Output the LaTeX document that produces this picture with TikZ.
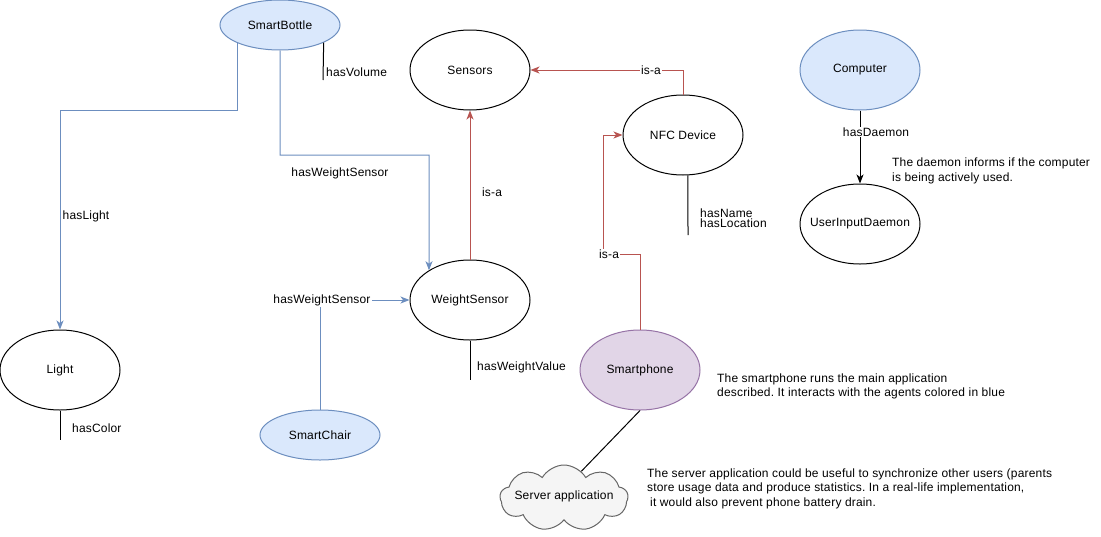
\documentclass[tikz,border=0pt]{standalone}
\usepackage{fontspec}
\setmainfont{Liberation Sans}[LetterSpace=1.5]
\usetikzlibrary{shapes.geometric,shapes.symbols,arrows.meta}
\definecolor{bfill}{HTML}{DAE8FC}
\definecolor{bdraw}{HTML}{6C8EBF}
\definecolor{rdraw}{HTML}{B85450}
\definecolor{pfill}{HTML}{E1D5E7}
\definecolor{pdraw}{HTML}{9673A6}
\definecolor{gfill}{HTML}{F5F5F5}
\definecolor{gdraw}{HTML}{666666}
\newcommand\myfs{\fontsize{12}{14.5}\selectfont}
\frenchspacing
\begin{document}
\begin{tikzpicture}[x=1pt,y=-1pt,
 txt/.style={font=\myfs, inner sep=1pt},
 ent/.style={ellipse, draw=black, line width=1pt, minimum width=120pt, minimum height=80pt, inner sep=0pt, font=\myfs},
 agent/.style={ent, draw=bdraw, fill=bfill},
 flat/.style={minimum height=50pt},
 tip/.style={-{Stealth[length=9pt,width=7pt,inset=2.5pt]}},
 bl/.style={draw=bdraw, line width=1pt},
 rl/.style={draw=rdraw, line width=1pt},
 kl/.style={draw=black, line width=1pt},
 elab/.style={txt, fill=white},
]
\fill[white] (0,0) rectangle (1101,536);
\useasboundingbox (0,0) rectangle (1101,536);

% entities
\node[agent, flat] (sb) at (280,25) {SmartBottle};
\node[ent] (sens) at (470,70) {Sensors};
\node[ent] (nfc) at (683,135) {NFC Device};
\node[agent] (comp) at (860,70) {Computer};
\node[ent] (uid) at (860,224) {\makebox[0pt]{UserInputDaemon}};
\node[ent] (ws) at (470,300) {\makebox[0pt]{WeightSensor}};
\node[ent] (light) at (60,370) {Light};
\node[agent, flat] (sc) at (320,435) {SmartChair};
\node[ent, draw=pdraw, fill=pfill] (sp) at (640,370) {Smartphone};
\node[cloud, cloud puffs=9, cloud puff arc=120, cloud ignores aspect, draw=gdraw, fill=gfill, line width=1pt,
      minimum width=128pt, minimum height=66pt, inner sep=0pt, font=\myfs] (srv) at (564,498)
      {\raisebox{6pt}{\makebox[0pt]{Server application}}};

% corner coordinates
\coordinate (c1) at (60,110);
\coordinate (c2) at (429.1,155);
\coordinate (c3) at (603,254);

% blue relations
\draw[bl, tip] (sb.-157) |- (c1) -- (light.north);
\node[txt] at (86,216) {hasLight};
\draw[bl, tip] (sb.south) |- (c2) -- (ws.144.5);
\node[txt] at (340,173) {hasWeightSensor};
\draw[bl, tip] (sc.north) |- (ws.west) node[elab, pos=0.5, xshift=2pt] {hasWeightSensor};

% red is-a relations
\draw[rl, tip] (ws.north) -- (sens.south);
\node[txt] at (492,192) {is-a};
\draw[rl, tip] (nfc.north) |- (sens.east) node[elab, pos=0.605] {is-a};
\draw[rl, tip] (sp.north) |- (c3) |- (nfc.west);
\node[elab] at (609,254) {is-a};

% black
\draw[kl, tip] (comp.south) -- (uid.north);
\node[elab] at (876,132) {hasDaemon};
\draw[kl] (sp.south) -- (srv.57);

% attributes
\coordinate (e1) at (323,80);
\draw[kl] (sb.-22) -- (e1);
\node[txt, anchor=west] at (325,72) {hasVolume};
\coordinate (e2) at (688,235);
\draw[kl] (nfc.-83) -- (e2);
\node[txt, anchor=west, align=left, font=\fontsize{12}{10}\selectfont] at (699,218.5) {hasName\\hasLocation};
\coordinate (e3) at (470,380);
\draw[kl] (ws.south) -- (e3);
\node[txt, anchor=west] at (476,367) {hasWeightValue};
\coordinate (e4) at (60,440);
\draw[kl] (light.south) -- (e4);
\node[txt, anchor=west] at (71,428) {hasColor};

% notes
\node[txt, anchor=west, align=left] at (891,171) {The daemon informs if the computer\\is being actively used.};
\node[txt, anchor=west, align=left] at (716,386.5) {The smartphone runs the main application\\described. It interacts with the agents colored in blue};
\node[txt, anchor=west, align=left] at (646,488.5) {The server application could be useful to synchronize other users (parents\\store usage data and produce statistics. In a real-life implementation,\\\hspace{3pt}it would also prevent phone battery drain.};
\end{tikzpicture}
\end{document}
